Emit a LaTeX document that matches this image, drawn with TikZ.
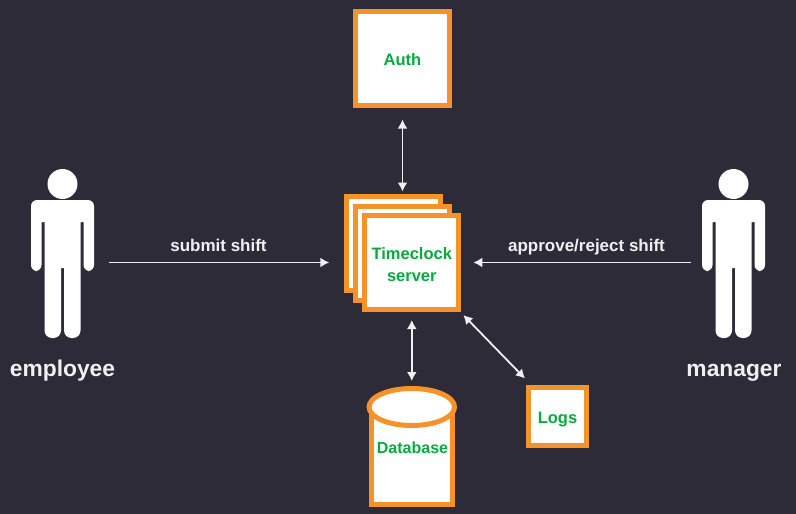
\documentclass[tikz,border=0pt]{standalone}
\usepackage{fontspec}
\setmainfont{Liberation Sans}
\usetikzlibrary{arrows.meta,shapes.geometric}
\definecolor{slate}{RGB}{45,43,56}
\definecolor{boxorange}{RGB}{246,146,42}
\definecolor{textgreen}{RGB}{8,170,62}
\definecolor{softwhite}{RGB}{240,240,242}
\tikzset{
    box/.style={rectangle,draw=boxorange,fill=white,line width=5pt,inner sep=0pt,text=textgreen,
        font=\fontsize{16.5}{22}\selectfont\bfseries,align=center,text height=14.5pt,text depth=0pt},
    dbcap/.style={ellipse,draw=boxorange,fill=white,line width=5pt,inner sep=0pt,minimum width=85.5pt,minimum height=37pt},
    figurearea/.style={rectangle,inner sep=0pt,minimum width=63pt,minimum height=154pt},
    role/.style={anchor=base,text=softwhite,font=\fontsize{22.8}{26}\selectfont\bfseries},
    msg/.style={anchor=base,text=softwhite,font=\fontsize{17}{20}\selectfont\bfseries},
    link/.style={-{Latex[length=9pt,width=10pt]},draw=softwhite,line width=1.8pt},
    dlink/.style={{Latex[length=9pt,width=10pt]}-{Latex[length=9pt,width=10pt]},draw=softwhite,line width=1.8pt},
    person/.pic={
        \fill[white] (0,0) circle (15);
        \fill[white,rounded corners=6pt] (0,16) -- (31.5,16) -- (31.5,87) -- (21,87)
            [sharp corners] -- (21,38) -- (18,38)
            [rounded corners=7.5pt] -- (18,154) -- (1.5,154)
            [sharp corners] -- (1.5,84) -- (-1.5,84)
            [rounded corners=7.5pt] -- (-1.5,154) -- (-18,154)
            [sharp corners] -- (-18,38) -- (-21,38)
            [rounded corners=6pt] -- (-21,87) -- (-31.5,87) -- (-31.5,16) -- cycle;
    },
}
\begin{document}
\begin{tikzpicture}[x=1pt,y=-1pt]
\fill[slate] (0,0) rectangle (796,514);
\useasboundingbox (0,0) rectangle (796,514);
% people
\pic at (62.5,184) {person};
\pic at (733.5,184) {person};
\node[figurearea] (employee) at (62.5,262.5) {};
\node[figurearea] (manager) at (733.5,262.5) {};
\node[role] (employeelabel) at (62.5,376.5) {employee};
\node[role] (managerlabel) at (734,376.5) {manager};
% boxes
\node[box,minimum size=94pt] (auth) at (402.5,58) {Auth};
\node[box,minimum size=94pt] (back) at (393.5,243.5) {};
\node[box,minimum size=94pt] (mid) at (402.5,253) {};
\node[box,minimum size=94pt,text height=37pt] (front) at (411.8,262.5) {Timeclock\\server};
\node[box,minimum size=58pt] (logs) at (557.5,416) {Logs};
\node[box,minimum width=81pt,minimum height=97pt] (dbbody) at (411.8,455.5) {};
\node[dbcap] (dbtop) at (411.8,407) {};
\node[anchor=base,text=textgreen,font=\fontsize{16}{21}\selectfont\bfseries] (dblabel) at (412.5,453) {Database};
% messages
\node[msg] (submit) at (218.5,251) {submit shift};
\node[msg] (approve) at (586.5,251) {approve/reject shift};
\draw[link,shorten <=15pt,shorten >=33pt] (employee.east) -- (front.west);
\draw[link,shorten <=11pt,shorten >=12pt] (manager.west) -- (front.east);
\draw[dlink,shorten <=12pt,shorten >=12pt] (auth.south) -- (mid.north);
\draw[dlink,shorten <=8pt,shorten >=5pt] (front.south) -- (dbtop.north);
\draw[dlink] ([shift={(2,3)}]front.south east) -- ([shift={(-1,-6)}]logs.north west);
\end{tikzpicture}
\end{document}
